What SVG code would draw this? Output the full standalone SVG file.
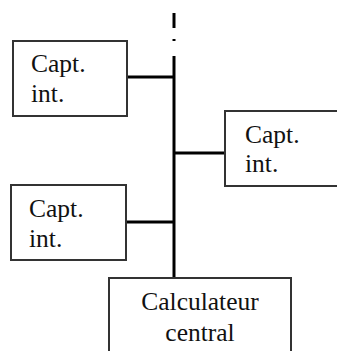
<svg xmlns="http://www.w3.org/2000/svg" width="337" height="351" viewBox="0 0 337 351">
<style>
.box{fill:#fff;stroke:#333;stroke-width:2}
.t{font-family:"Liberation Serif","Times New Roman",serif;font-size:25.5px;fill:#111}
.c{stroke:#000;stroke-width:3;fill:none}
</style>
<g id="connectors">
<line class="c" x1="174" y1="13" x2="174" y2="28"/>
<line class="c" x1="174" y1="39" x2="174" y2="41" stroke-width="2"/>
<line class="c" x1="174" y1="56" x2="174" y2="278"/>
<line class="c" x1="127" y1="77" x2="174" y2="77"/>
<line class="c" x1="174" y1="153" x2="225" y2="153"/>
<line class="c" x1="126" y1="222" x2="174" y2="222"/>
</g>
<g id="capt1">
<rect class="box" x="13" y="41" width="114" height="75"/>
<text class="t" x="31" y="72">Capt.</text>
<text class="t" x="31" y="102">int.</text>
</g>
<g id="capt2">
<rect class="box" x="225" y="111" width="120" height="75"/>
<text class="t" x="245" y="143">Capt.</text>
<text class="t" x="245" y="172">int.</text>
</g>
<g id="capt3">
<rect class="box" x="11" y="185" width="115" height="75"/>
<text class="t" x="29" y="217">Capt.</text>
<text class="t" x="29" y="247">int.</text>
</g>
<g id="calc">
<rect class="box" x="109" y="278" width="182" height="80"/>
<text class="t" x="200" y="310" text-anchor="middle">Calculateur</text>
<text class="t" x="200" y="341" text-anchor="middle">central</text>
</g>
</svg>
